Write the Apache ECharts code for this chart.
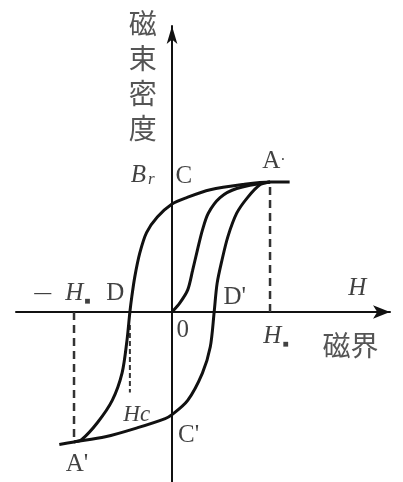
<!DOCTYPE html>
<html lang="ja">
<head>
<meta charset="utf-8">
<script src="https://cdn.jsdelivr.net/npm/echarts@6/dist/echarts.min.js"></script>
<style>
    html, body { margin: 0; padding: 0; background: #fff; }
    #chartMain { width: 403px; height: 482px; }
</style>
</head>
<body>
<div id="chartMain"></div>
<script>
    // values in units of H/Hm and B/Bm
    var descending = [[1.20, 1.00], [1.00, 1.00], [0.72, 0.98], [0.39, 0.94], [0.15, 0.88], [0, 0.83],
        [-0.15, 0.73], [-0.26, 0.61], [-0.33, 0.45], [-0.38, 0.27], [-0.41, 0.12], [-0.43, 0],
        [-0.46, -0.22], [-0.51, -0.47], [-0.61, -0.68], [-0.76, -0.85], [-0.92, -0.98], [-1.00, -1.00]];
    var ascending = [[-1.15, -1.02], [-1.00, -1.00], [-0.68, -0.96], [-0.35, -0.89], [-0.07, -0.82], [0, -0.79],
        [0.16, -0.68], [0.31, -0.47], [0.39, -0.27], [0.43, 0], [0.46, 0.22], [0.51, 0.40],
        [0.57, 0.58], [0.66, 0.76], [0.77, 0.88], [0.90, 0.98], [1.00, 1.00]];
    var initial = [[0, 0], [0.08, 0.07], [0.16, 0.17], [0.21, 0.32], [0.26, 0.48], [0.31, 0.63],
        [0.37, 0.76], [0.49, 0.88], [0.66, 0.95], [1.00, 1.00]];
    var hmGuide = [[1, 0], [1, 1]];
    var negHmGuide = [[-1, 0], [-1, -1]];
    var hcGuide = [[-0.43, -0.10], [-0.43, -0.62]];

    var labelTexts = ['磁\n束\n密\n度', '磁界', '{i|B}{s|r}', 'C', 'A{d|·}', '{n|—}{i|H}{q|■}', 'D', "D'",
        '{i|H}', '0', '{i|H}{q|■}', '{h|Hc}', "C'", "A'"];
    var labelH = [-0.30, 1.82, -0.30, 0.12, 1.04, -1.12, -0.58, 0.64, 1.89, 0.11, 1.06, -0.36, 0.17, -0.97];
    var labelB = [1.82, -0.26, 1.05, 1.04, 1.16, 0.14, 0.14, 0.11, 0.18, -0.14, -0.19, -0.79, -0.95, -1.17];

    var ink = '#111';
    var rich = {
        i: { fontFamily: 'Liberation Serif', fontStyle: 'italic', fontSize: 25, color: ink },
        h: { fontFamily: 'Liberation Serif', fontStyle: 'italic', fontSize: 23, color: ink },
        s: { fontFamily: 'Liberation Serif', fontStyle: 'italic', fontSize: 17, color: ink, verticalAlign: 'bottom', padding: [9, 0, 0, 2] },
        q: { fontSize: 10, color: ink, verticalAlign: 'bottom', padding: [11, 0, 0, 1] },
        d: { fontSize: 16, color: ink },
        n: { fontFamily: 'Liberation Serif', fontWeight: 'bold', fontSize: 17, color: ink, padding: [0, 14, 0, 0] }
    };

    var labelData = labelTexts.map(function (t, k) {
        var cjk = k < 2;
        return {
            value: [labelH[k], labelB[k]],
            label: {
                formatter: t,
                fontFamily: cjk ? 'Noto Sans CJK JP' : 'Liberation Serif',
                fontSize: cjk ? 28 : 25,
                lineHeight: cjk ? 35 : 26,
                color: cjk ? '#2a2a2a' : ink
            }
        };
    });

    function curve(data) {
        return {
            type: 'line', data: data, smooth: 0.3, showSymbol: false, silent: true,
            lineStyle: { color: ink, width: 3 }
        };
    }
    function dashed(data, w, d) {
        return {
            type: 'line', data: data, showSymbol: false, silent: true,
            lineStyle: { color: '#333', width: w, type: d }
        };
    }

    var myChart = echarts.init(document.getElementById('chartMain'));
    myChart.setOption({
        animation: false,
        backgroundColor: '#fff',
        grid: { left: 16, right: 13, top: 26, bottom: 0 },
        xAxis: {
            type: 'value', min: -1.592, max: 2.224,
            axisLine: { onZero: true, symbol: ['none', 'arrow'], symbolSize: [10, 17], lineStyle: { color: ink, width: 2 } },
            axisTick: { show: false }, axisLabel: { show: false }, splitLine: { show: false }
        },
        yAxis: {
            type: 'value', min: -1.308, max: 2.2,
            axisLine: { onZero: true, symbol: ['none', 'arrow'], symbolSize: [8, 18], lineStyle: { color: ink, width: 2 } },
            axisTick: { show: false }, axisLabel: { show: false }, splitLine: { show: false }
        },
        series: [
            dashed(hmGuide, 2.5, [8, 5]),
            dashed(negHmGuide, 2.5, [8, 5]),
            dashed(hcGuide, 2, [5, 3]),
            curve(descending),
            curve(ascending),
            curve(initial),
            {
                type: 'scatter', data: labelData, symbolSize: 0, silent: true,
                itemStyle: { color: 'rgba(0,0,0,0)' },
                label: { show: true, position: 'inside', rich: rich }
            }
        ]
    });
</script>
</body>
</html>
